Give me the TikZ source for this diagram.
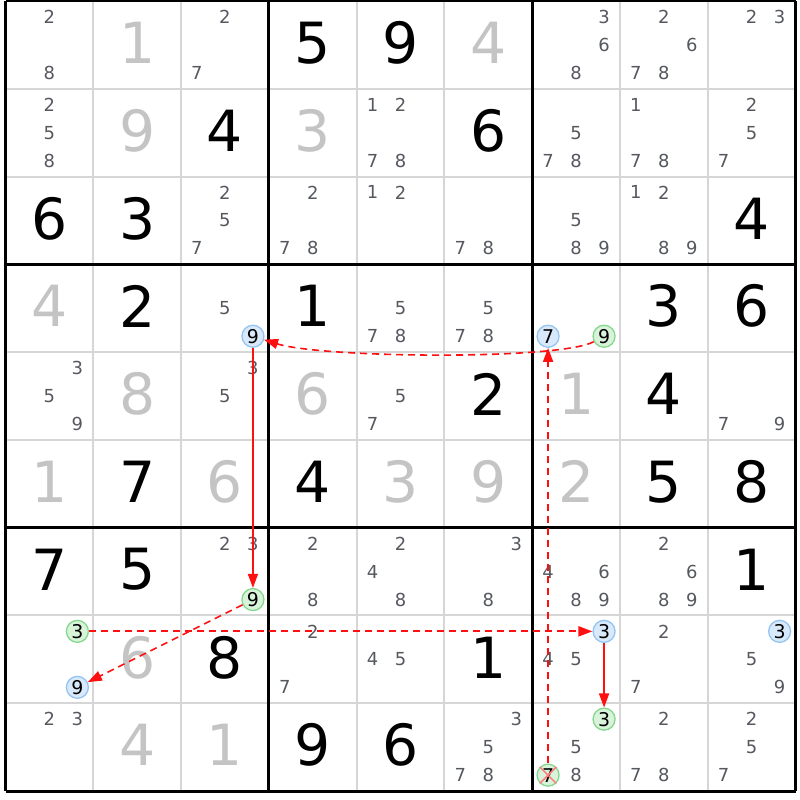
\documentclass[tikz,border=0pt]{standalone}
\usepackage{fontspec}
\setmainfont{DejaVu Sans}
\usepackage{tikz}
\usetikzlibrary{positioning, arrows.meta, calc}
\definecolor{solvedgrey}{HTML}{C4C4C4}
\definecolor{candgrey}{HTML}{55585E}
\definecolor{gridgrey}{HTML}{D6D6D6}
\definecolor{onfill}{HTML}{D8E9FB}
\definecolor{onedge}{HTML}{94C4F2}
\definecolor{offfill}{HTML}{D9F3DA}
\definecolor{offedge}{HTML}{84D88E}
\definecolor{linkred}{HTML}{FF1010}
\tikzstyle{given} = [font=\fontsize{57}{60}\selectfont, text=black, inner sep=0pt]
\tikzstyle{solved} = [given, text=solvedgrey]
\tikzstyle{cand} = [font=\fontsize{18}{20}\selectfont, text=candgrey, inner sep=0pt]
\tikzstyle{onmark} = [cand, font=\fontsize{19}{20}\selectfont, circle, text=black, draw=onedge, fill=onfill, line width=1.3bp, minimum size=22bp]
\tikzstyle{offmark} = [onmark, draw=offedge, fill=offfill]
\tikzstyle{strong} = [draw=linkred, line width=1.6bp, -{Triangle[length=14bp,width=10bp]}]
\tikzstyle{weak} = [strong, dash pattern=on 7bp off 5bp]
\tikzstyle{thinline} = [gridgrey, line width=2bp]
\tikzstyle{thickline} = [black, line width=3bp]

\begin{document}
\begin{tikzpicture}[x=1bp, y=-1bp]
        \useasboundingbox (0,0) rectangle (800,800);

        % cell lines, then box lines
        \foreach \i in {1,2,4,5,7,8} {
            \draw[thinline] ({5.5+87.78*\i},1) -- ({5.5+87.78*\i},791);
            \draw[thinline] (5.5,{1+87.78*\i}) -- (795.5,{1+87.78*\i});
        }
        \foreach \i in {0,3,6,9} {
            \draw[thickline] ({5.5+87.78*\i},1) -- ({5.5+87.78*\i},791);
            \draw[thickline] (5.5,{1+87.78*\i}) -- (795.5,{1+87.78*\i});
        }

        % givens
        \foreach \r/\c/\d in {0/3/5, 0/4/9, 1/2/4, 1/5/6, 2/0/6, 2/1/3, 2/8/4, 3/1/2, 3/3/1, 3/7/3, 3/8/6,
                4/5/2, 4/7/4, 5/1/7, 5/3/4, 5/7/5, 5/8/8, 6/0/7, 6/1/5, 6/8/1, 7/2/8, 7/5/1, 8/3/9, 8/4/6} {
            \pgfmathsetmacro{\px}{5.5+87.78*(\c+0.5)}
            \pgfmathsetmacro{\py}{1+87.78*(\r+0.5)-2}
            \node[given] (g\r\c) at (\px,\py) {\d};
        }
        % solved digits
        \foreach \r/\c/\d in {0/1/1, 0/5/4, 1/1/9, 1/3/3, 3/0/4, 4/1/8, 4/3/6, 4/6/1, 5/0/1, 5/2/6, 5/4/3,
                5/5/9, 5/6/2, 7/1/6, 8/1/4, 8/2/1} {
            \pgfmathsetmacro{\px}{5.5+87.78*(\c+0.5)}
            \pgfmathsetmacro{\py}{1+87.78*(\r+0.5)-2}
            \node[solved] (g\r\c) at (\px,\py) {\d};
        }

        % pencil marks
        \foreach \r/\c/\list in {0/0/{2,8}, 0/2/{2,7}, 0/6/{3,6,8}, 0/7/{2,6,7,8}, 0/8/{2,3},
                1/0/{2,5,8}, 1/4/{1,2,7,8}, 1/6/{5,7,8}, 1/7/{1,7,8}, 1/8/{2,5,7},
                2/2/{2,5,7}, 2/3/{2,7,8}, 2/4/{1,2}, 2/5/{7,8}, 2/6/{5,8,9}, 2/7/{1,2,8,9},
                3/2/{5}, 3/4/{5,7,8}, 3/5/{5,7,8},
                4/0/{3,5,9}, 4/2/{3,5}, 4/4/{5,7}, 4/8/{7,9},
                6/2/{2,3}, 6/3/{2,8}, 6/4/{2,4,8}, 6/5/{3,8}, 6/6/{4,6,8,9}, 6/7/{2,6,8,9},
                7/3/{2,7}, 7/4/{4,5}, 7/6/{4,5}, 7/7/{2,7}, 7/8/{5,9},
                8/0/{2,3}, 8/5/{3,5,7,8}, 8/6/{5,8}, 8/7/{2,7,8}, 8/8/{2,5,7}} {
            \foreach \d in \list {
                \pgfmathsetmacro{\px}{5.5+87.78*(\c+0.5)+28*(mod(\d-1,3)-1)}
                \pgfmathsetmacro{\py}{1+87.78*(\r+0.5)+28*(floor((\d-1)/3)-1)}
                \node[cand] (k\r\c\d) at (\px,\py) {\d};
            }
        }

        % chain candidates
        \foreach \r/\c/\d/\kind in {3/2/9/onmark, 3/6/7/onmark, 7/0/9/onmark, 7/6/3/onmark, 7/8/3/onmark,
                3/6/9/offmark, 6/2/9/offmark, 7/0/3/offmark, 8/6/3/offmark, 8/6/7/offmark} {
            \pgfmathsetmacro{\px}{5.5+87.78*(\c+0.5)+28*(mod(\d-1,3)-1)}
            \pgfmathsetmacro{\py}{1+87.78*(\r+0.5)+28*(floor((\d-1)/3)-1)}
            \node[\kind] (k\r\c\d) at (\px,\py) {\d};
        }

        % links
        \draw[weak] (k369) .. controls +(-45,24) and +(70,22) .. (k329);
        \draw[strong] (k329) -- (k629);
        \draw[weak] (k629) -- (k709);
        \draw[weak, line width=2bp] (k703) -- (k763);
        \draw[strong] (k763) -- (k863);
        \draw[weak] (k867) -- (k367);

        % eliminated
        \draw[linkred!55, line width=1.5bp] (k867.north west) -- (k867.south east);
        \draw[linkred!55, line width=1.5bp] (k867.north east) -- (k867.south west);

\end{tikzpicture}
\end{document}
